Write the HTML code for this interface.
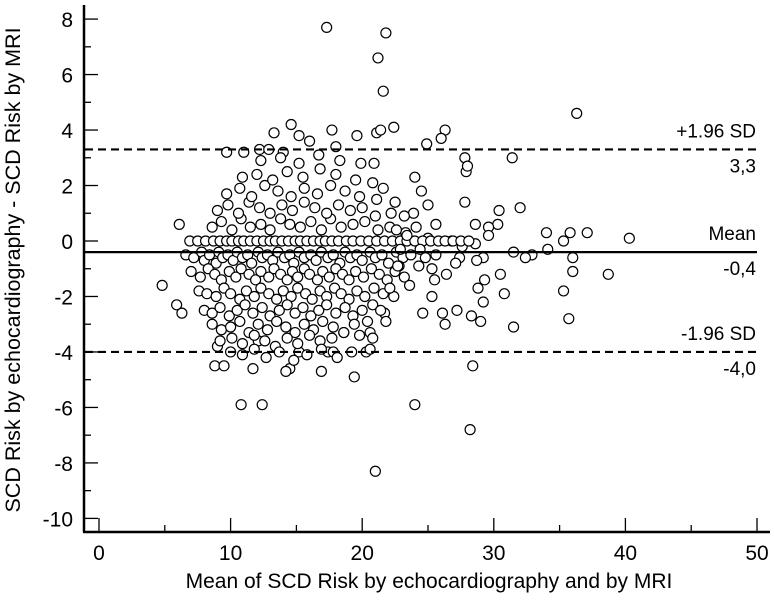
<!DOCTYPE html>
<html><head><meta charset="utf-8"><style>
body{margin:0;background:#fff}
svg{display:block;font-family:"Liberation Sans",sans-serif}
</style></head><body>
<svg id="chart" width="774" height="601">
<g id="axes"></g>
<g id="pts"></g>
<g id="lines"></g>
<text transform="translate(20,270) rotate(-90)" text-anchor="middle" font-size="21.5" fill="#000">SCD Risk by echocardiography - SCD Risk by MRI</text>
<text x="429" y="588" text-anchor="middle" font-size="21" fill="#000">Mean of SCD Risk by echocardiography and by MRI</text>
</svg>
<script>
const xTicks=[0,10,20,30,40,50];
const yTicks=[8,6,4,2,0,-2,-4,-6,-8,-10];
const refValues=[3.3,-0.4,-4.0];
const refNames=["+1.96 SD","Mean","-1.96 SD"];
const refLabels=["3,3","-0,4","-4,0"];
const xs=[17.3,21.8,21.2,21.6,36.3,14.6,17.7,22.4,26.3,26,13.3,15.2,16,21.1,21.4,19.6,31.4,27.8,24.9,12.2,9.7,11,12.9,14,18,
21,28.2,24,10.8,12.4,28.4,19.4,8.8,9.5,14.5,14.2,17.4,17.8,11.7,16.9,15.2,20.3,12.1,9,4.8,5.9,6.3,6.1,
40.3,38.7,37.1,35.8,35.3,36,36,35.3,35.7,34.1,34,32.9,32.4,32,31.5,31.5,30.3,30.4,30.5,30.8,29.6,29.6,29.2,29.3,29.2,29,28.6,28.6,28.7,28.8,28.3,27.8,27.9,28,27.6,27.4,27.1,27.2,26.8,26.4,26.1,26.3,25.6,25.6,25.5,25.3,25,25,24.8,24.6,24.3,24.5,24,
6.9,7.5,8.1,8.7,9.2,9.7,10.1,10.6,11.0,11.5,12.0,12.5,13.0,13.4,13.9,14.4,14.9,15.3,15.8,16.3,16.8,17.2,17.7,18.2,18.8,19.3,19.9,20.5,21.1,21.7,22.3,22.9,23.4,24.0,24.6,25.2,25.8,26.3,26.9,27.5,28.1,
6.6,7.2,7.8,8.0,8.4,8.9,9.1,9.4,9.8,10.2,10.5,10.9,11.3,11.6,12.1,12.4,12.8,13.2,13.6,14.1,14.5,14.8,15.2,15.6,16.1,16.5,16.9,17.4,17.8,18.3,18.7,19.1,19.6,20.0,20.6,21.0,21.5,22.0,22.6,23.1,23.7,
7.0,7.7,8.3,8.8,9.3,9.9,10.4,10.8,11.4,11.9,12.3,12.9,13.3,13.8,14.3,14.7,15.1,15.6,16.0,16.6,17.0,17.5,18.0,18.5,19.0,19.5,20.1,20.7,21.3,21.9,22.5,23.2,
7.6,8.2,8.9,9.5,10.0,10.7,11.2,11.8,12.3,12.9,13.5,14.0,14.6,15.1,15.7,16.2,16.8,17.3,17.9,18.4,19.0,19.6,20.2,20.9,21.6,22.4,
8.0,8.6,9.2,9.9,10.5,11.1,11.7,12.4,13.0,13.7,14.3,14.9,15.5,16.1,16.7,17.3,18.0,18.7,19.3,20.0,20.8,21.7,
8.6,9.3,10.0,10.7,11.4,12.1,12.8,13.5,14.2,14.9,15.6,16.3,17.0,17.8,18.6,19.4,20.4,
9.2,10.1,10.9,11.8,12.6,13.4,14.3,15.1,16.0,16.8,17.7,18.6,19.8,
10.0,10.9,11.8,12.7,13.7,14.8,15.8,16.9,18.1,19.2,20.6,
8.6,9.3,10.1,10.8,11.5,12.3,13.0,13.8,14.5,15.3,16.1,16.9,17.6,18.4,19.3,20.2,21.2,22.1,23.3,
9.0,9.8,10.6,11.4,12.2,13.0,13.9,14.7,15.6,16.4,17.3,18.2,19.1,20.0,21.0,22.2,
9.7,10.7,11.6,12.6,13.6,14.6,15.6,16.6,17.6,18.7,19.8,21.1,22.5,
10.9,12.0,13.2,14.3,15.5,16.8,18.0,19.5,20.8,
12.3,13.8,15.2,16.7,18.3,19.9,
22.6,23.4,22.9,23.9,21.8,20.6,
22.8,23.6,24.4,25.3,22.1,21.4,20.8,
22.5,23.2,24.1,21.6,20.9,22.7],
ys=[7.7,7.5,6.6,5.4,4.6,4.2,4.0,4.1,4.0,3.7,3.9,3.8,3.6,3.9,4.0,3.8,3.0,3.0,3.5,3.3,3.2,3.2,3.3,3.2,3.4,
-8.3,-6.8,-5.9,-5.9,-5.9,-4.5,-4.9,-4.5,-4.5,-4.6,-4.7,-4.0,-4.0,-4.6,-4.7,-4.0,-4.0,-3.6,-3.8,-1.6,-2.3,-2.6,0.6,
0.1,-1.2,0.3,0.3,0,-0.6,-1.1,-1.8,-2.8,-0.3,0.3,-0.5,-0.6,1.2,-0.4,-3.1,0.6,1.1,-1.2,-1.9,0.5,0.2,-0.6,-1.4,-2.2,-2.9,0.6,-0.1,-0.7,-1.7,-2.7,1.4,2.5,2.7,-0.2,-0.6,-0.8,-2.5,0,-1.2,-2.6,-3.0,0.6,-0.5,-1.4,-2.0,1.3,0.1,-0.6,-2.6,-0.9,1.8,2.3,
0,0,0,0,0,0,0,0,0,0,0,0,0,0,0,0,0,0,0,0,0,0,0,0,0,0,0,0,0,0,0,0,0,0,0,0,0,0,0,0,0,
-0.5,-0.6,-0.4,-0.7,-0.5,-0.8,-0.4,-0.6,-0.5,-0.7,-0.4,-0.6,-0.5,-0.8,-0.4,-0.6,-0.5,-0.7,-0.4,-0.6,-0.5,-0.8,-0.4,-0.6,-0.5,-0.7,-0.4,-0.6,-0.5,-0.8,-0.4,-0.6,-0.5,-0.7,-0.4,-0.6,-0.5,-0.8,-0.4,-0.6,-0.5,
-1.1,-1.3,-1.0,-1.2,-1.4,-1.1,-1.3,-1.0,-1.2,-1.4,-1.1,-1.3,-1.0,-1.2,-1.4,-1.1,-1.3,-1.0,-1.2,-1.4,-1.1,-1.3,-1.0,-1.2,-1.4,-1.1,-1.3,-1.0,-1.2,-1.4,-1.1,-1.3,
-1.8,-1.9,-2.0,-1.7,-1.9,-2.1,-1.8,-2.0,-1.7,-1.9,-2.1,-1.8,-2.0,-1.7,-1.9,-2.1,-1.8,-2.0,-1.7,-1.9,-2.1,-1.8,-2.0,-1.7,-1.9,-2.0,
-2.5,-2.6,-2.4,-2.7,-2.5,-2.3,-2.6,-2.4,-2.7,-2.5,-2.3,-2.6,-2.4,-2.7,-2.5,-2.3,-2.6,-2.4,-2.7,-2.5,-2.3,-2.6,
-3.0,-3.2,-3.1,-2.9,-3.3,-3.0,-3.2,-2.9,-3.1,-3.3,-3.0,-3.2,-2.9,-3.1,-3.3,-3.0,-2.9,
-3.6,-3.5,-3.7,-3.4,-3.6,-3.8,-3.5,-3.7,-3.4,-3.6,-3.5,-3.3,-3.4,
-4.0,-4.1,-3.9,-4.2,-4.0,-4.3,-4.1,-3.9,-4.2,-4.0,-3.9,
0.5,0.7,0.4,0.8,0.5,0.6,0.4,0.8,0.6,0.5,0.7,0.4,0.8,0.5,0.6,0.7,0.4,0.5,0.3,
1.1,1.3,1.0,1.4,1.2,1.0,1.3,1.1,1.4,1.2,1.0,1.3,1.1,1.2,0.9,1.0,
1.7,1.9,1.6,2.0,1.8,1.6,1.9,1.7,2.0,1.8,1.6,1.5,1.4,
2.3,2.4,2.2,2.5,2.3,2.6,2.4,2.2,2.1,
2.9,3.0,2.8,3.1,2.9,2.8,
0.4,0.2,-0.3,1.0,-2.9,-3.3,
-0.9,-1.6,-0.3,-1.0,-1.7,-2.5,-3.5,
1.4,0.9,0.5,1.9,2.8,-0.9];
const xAx=v=>99+v*13.16;
const yAx=v=>241-v*27.74;
const NS='http://www.w3.org/2000/svg';
function mk(tag,attrs,parent){const e=document.createElementNS(NS,tag);for(const k in attrs)e.setAttribute(k,attrs[k]);parent.appendChild(e);return e;}
const axes=document.getElementById('axes');
let e=mk('line',{x1:84,y1:5,x2:84,y2:532,stroke:'#000','stroke-width':2.5},axes);


e=mk('line',{x1:83,y1:532,x2:770,y2:532,stroke:'#000','stroke-width':2.5},axes);


yTicks.forEach((v,i)=>{
 const y=yAx(v);
 let t=mk('line',{x1:84,y1:y,x2:98,y2:y,stroke:'#000','stroke-width':1.3},axes);
 
 
 if(i<yTicks.length-1){let m=mk('line',{x1:84,y1:yAx(v-1),x2:91,y2:yAx(v-1),stroke:'#000','stroke-width':1.3},axes);
 
 }
 let l=mk('text',{x:73,y:y+8,'text-anchor':'end','font-size':21},axes);l.textContent=v;
 
 
});
xTicks.forEach((v,i)=>{
 const x=xAx(v);
 let t=mk('line',{x1:x,y1:532,x2:x,y2:518,stroke:'#000','stroke-width':1.3},axes);
 
 
 if(i<xTicks.length-1){let m=mk('line',{x1:xAx(v+5),y1:532,x2:xAx(v+5),y2:525,stroke:'#000','stroke-width':1.3},axes);
 
 }
 let l=mk('text',{x:x,y:560,'text-anchor':'middle','font-size':21},axes);l.textContent=v;
 
 
});
const pts=document.getElementById('pts');
xs.forEach((x,i)=>{
 const c=mk('circle',{cx:xAx(x),cy:yAx(ys[i]),r:5,fill:'#fff',stroke:'#000','stroke-width':1.2},pts);
 
 
});
const lines=document.getElementById('lines');
refValues.forEach((v,i)=>{
 const y=yAx(v);
 const ln=mk('line',{x1:85,y1:y,x2:757,y2:y,stroke:'#000','stroke-width':2.2},lines);
 if(i!==1)ln.setAttribute('stroke-dasharray','8,5');
 
 
 const a=mk('text',{x:756,y:y-12,'text-anchor':'end','font-size':19},lines);a.textContent=refNames[i];
 
 
 const b=mk('text',{x:756,y:y+23,'text-anchor':'end','font-size':19},lines);b.textContent=refLabels[i];
 
 
});
</script>
</body></html>
